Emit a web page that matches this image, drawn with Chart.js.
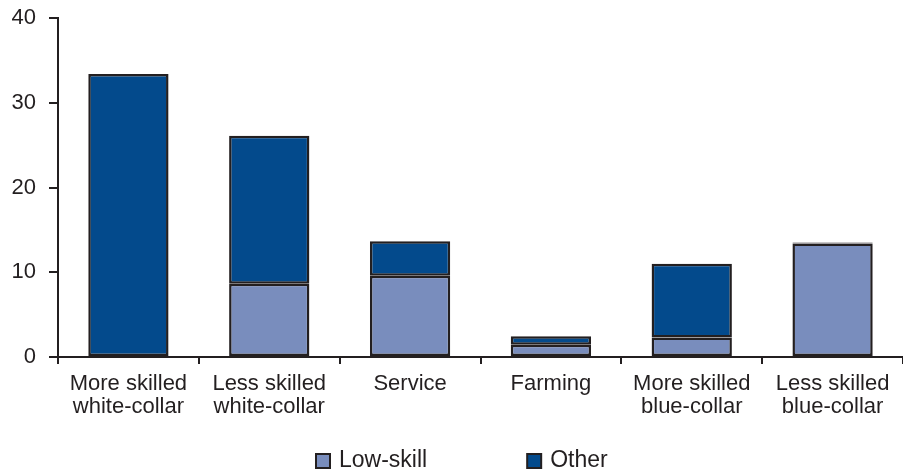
<!DOCTYPE html>
<html>
<head>
<meta charset="utf-8">
<script src="https://cdn.jsdelivr.net/npm/chart.js@4"></script>
<style>
  html, body { margin: 0; padding: 0; background: #fff; }
  #wrap { width: 903px; height: 473px; position: relative; }
</style>
</head>
<body>
<div id="wrap"><canvas id="c"></canvas></div>
<script>
// categorias e séries
const categories = [
  ['More skilled', 'white-collar'],
  ['Less skilled', 'white-collar'],
  ['Service'],
  ['Farming'],
  ['More skilled', 'blue-collar'],
  ['Less skilled', 'blue-collar']
];
const lowSkill = [0, 8.65, 9.6, 1.45, 2.3, 13.4];
const other = [33.4, 17.45, 4.05, 1.0, 8.7, 0.1];
const yTicks = [0, 10, 20, 30, 40];

const ink = '#231f20';
const fontFamily = 'Liberation Sans, Arial, sans-serif';
Chart.defaults.font.family = fontFamily;
Chart.defaults.color = ink;

// legenda desenhada à mão (espaçamento largo entre itens, como no original)
const bottomLegend = {
  id: 'bottomLegend',
  afterDraw(chart) {
    const ctx = chart.ctx;
    const y = 461;
    let x = 316;
    ctx.save();
    ctx.font = '23px ' + fontFamily;
    ctx.textBaseline = 'middle';
    chart.data.datasets.forEach(ds => {
      ctx.fillStyle = ds.backgroundColor;
      ctx.fillRect(x, y - 7, 14, 14);
      ctx.strokeStyle = ink;
      ctx.lineWidth = 2;
      ctx.strokeRect(x, y - 7, 14, 14);
      ctx.fillStyle = ink;
      ctx.fillText(ds.label, x + 23, y);
      x += 23 + ctx.measureText(ds.label).width + 100;
    });
    ctx.restore();
  }
};

new Chart(document.getElementById('c'), {
  type: 'bar',
  data: {
    labels: categories,
    datasets: [
      {
        label: 'Low-skill',
        data: lowSkill,
        backgroundColor: '#798dbd',
        borderColor: ink,
        borderWidth: 2.5,
        borderSkipped: false,
        categoryPercentage: 1,
        barPercentage: 0.57
      },
      {
        label: 'Other',
        data: other,
        backgroundColor: '#034a8c',
        borderColor: ink,
        borderWidth: 2.5,
        borderSkipped: false,
        categoryPercentage: 1,
        barPercentage: 0.57
      }
    ]
  },
  options: {
    responsive: true,
    maintainAspectRatio: false,
    animation: false,
    layout: { padding: { top: 18, right: 0, left: 0, bottom: 36 } },
    scales: {
      x: {
        stacked: true,
        offset: true,
        grid: {
          offset: true,
          drawOnChartArea: false,
          drawTicks: true,
          tickLength: 7,
          color: ink,
          lineWidth: 2
        },
        border: { display: true, color: ink, width: 2 },
        ticks: { font: { size: 22, lineHeight: 1.05 }, color: ink, padding: 8, maxRotation: 0 },
        afterFit: s => { s.height = 80; }
      },
      y: {
        stacked: true,
        min: 0,
        max: 40,
        afterBuildTicks: s => { s.ticks = yTicks.map(v => ({ value: v })); },
        grid: {
          drawOnChartArea: false,
          drawTicks: true,
          tickLength: 9,
          color: ink,
          lineWidth: 2
        },
        border: { display: true, color: ink, width: 2 },
        ticks: { font: { size: 22 }, color: ink, padding: 13 },
        afterFit: s => { s.width = 58; s.paddingTop = 0; s.paddingBottom = 0; }
      }
    },
    plugins: {
      legend: { display: false },
      tooltip: { enabled: false }
    }
  },
  plugins: [bottomLegend]
});
</script>
</body>
</html>
